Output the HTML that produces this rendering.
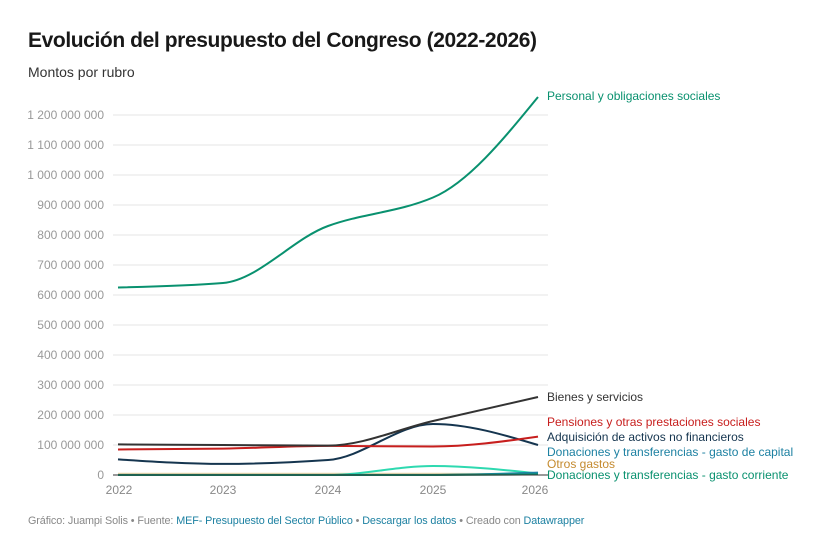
<!DOCTYPE html>
<html><head><meta charset="utf-8"><style>
body{margin:0;background:#fff;font-family:"Liberation Sans",sans-serif;}
.t{position:absolute;left:28px;top:29px;font-size:21px;font-weight:bold;color:#181818;letter-spacing:-0.4px}
.s{position:absolute;left:28px;top:64px;font-size:14px;color:#333}
.f{position:absolute;left:28px;top:515px;font-size:10.8px;color:#888;letter-spacing:-0.1px}
.f span{color:#1d81a2}
</style></head><body>
<div class="t">Evolución del presupuesto del Congreso (2022-2026)</div>
<div class="s">Montos por rubro</div>
<svg id="c" width="823" height="545" style="position:absolute;left:0;top:0"></svg>
<div class="f">Gráfico: Juampi Solis • Fuente: <span>MEF- Presupuesto del Sector Público</span> • <span>Descargar los datos</span> • Creado con <span>Datawrapper</span></div>
<script>
var s='',X=function(i){return 118+i*105},Y=function(v){return 475-v*30};
for(var k=0;k<=12;k++){var y=Y(k);var lab=k==0?'0':(k*100000000).toLocaleString('en').replace(/,/g,' ');
if(k>0)s+='<line x1="113" x2="548" y1="'+y+'" y2="'+y+'" stroke="#e6e6e6"/>';
s+='<text x="104" y="'+(y+4)+'" text-anchor="end" font-size="12" fill="#999">'+lab+'</text>';}
for(var i=0;i<5;i++)s+='<text x="'+(X(i)+(i==0?1:i==4?-3:0))+'" y="494" text-anchor="middle" font-size="12" fill="#888">'+(2022+i)+'</text>';
function mono(v){var n=v.length,p=v.map(function(a,i){return[X(i),Y(a)]}),d=[],m=[];
for(var i=0;i<n-1;i++)d.push((p[i+1][1]-p[i][1])/105);
for(var i=0;i<n;i++){if(i==0)m.push(d[0]);else if(i==n-1)m.push(d[n-2]);else m.push(d[i-1]*d[i]<=0?0:3*(105+105)/((2*105+105)/d[i-1]+(105+2*105)/d[i]));}
m[0]=(3*d[0]-m[1])/2;m[n-1]=(3*d[n-2]-m[n-2])/2;
var r='M'+p[0][0]+','+p[0][1];
for(var i=0;i<n-1;i++){var h=35;r+='C'+(p[i][0]+h)+','+(p[i][1]+m[i]*h)+' '+(p[i+1][0]-h)+','+(p[i+1][1]-m[i+1]*h)+' '+p[i+1][0]+','+p[i+1][1];}return r;}
var S=[
[[0.04,0.04,0.04,0.04,0.03],'#f6d9a9'],
[[0,0,0,0.3,0.05],'#2ed9b0'],
[[0.005,0.005,0.005,0.005,0.08],'#1d81a2'],
[[0.52,0.37,0.5,1.7,1.0],'#15354f'],
[[0.85,0.88,0.97,0.95,1.28],'#c71e1d'],
[[1.02,1.0,0.98,1.8,2.6],'#333333'],
[[6.25,6.4,8.3,9.25,12.6],'#09916f'],
[[0,0,0,0,0.02],'#09916f']];
S.forEach(function(a){s+='<path d="'+mono(a[0])+'" fill="none" stroke="'+a[1]+'" stroke-width="2"/>';});
s+='<line x1="113" x2="548" y1="475" y2="475" stroke="#333"/>';
var L=[[100,'#09916f','Personal y obligaciones sociales'],[401,'#333','Bienes y servicios'],[426,'#c71e1d','Pensiones y otras prestaciones sociales'],[441,'#15354f','Adquisición de activos no financieros'],[456,'#1d81a2','Donaciones y transferencias - gasto de capital'],[468,'#c48a2e','Otros gastos'],[479,'#09916f','Donaciones y transferencias - gasto corriente']];
L.forEach(function(a){s+='<text x="547" y="'+a[0]+'" font-size="12" fill="'+a[1]+'">'+a[2]+'</text>';});
document.getElementById('c').innerHTML=s;
</script>
</body></html>
